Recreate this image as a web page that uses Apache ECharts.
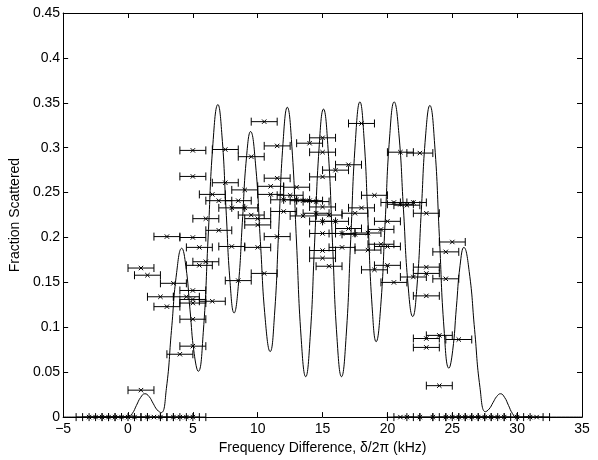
<!DOCTYPE html>
<html>
<head>
<meta charset="utf-8">
<script src="https://cdn.jsdelivr.net/npm/echarts@6/dist/echarts.min.js"></script>
<style>
html,body{margin:0;padding:0;background:#fff;}
#chart{width:598px;height:460px;}
</style>
</head>
<body>
<div id="chart"></div>
<script>
// Measured points (x in kHz, fraction scattered), each with horizontal error bar of +/- 1 kHz
const pointX = [1,1,1.5,2.5,3,3,3.5,4,4.5,5,5,5,5,5,5,5,5,5.5,5.5,6,6,6.5,6.5,7,7,7.5,7.5,8,8,8.5,8.5,9,9,9.5,9.5,10,10,10,10.5,10.5,11,11,11.5,11.5,11.5,12,12,12.5,13,13,13.5,13.5,14,14,14.5,14.5,15,15,15,15,15,15,15,15,15.5,15.5,16,16,16.5,16.5,17,17,17.5,17.5,18,18,18.5,18.5,19,19,19.5,19.5,20,20,20,20.5,20.5,21,21,21.5,22,22,22.5,23,23,23,23,23,23,24,24,24.5,24.5,25,25.5];
const pointY = [0.03,0.166,0.158,0.134,0.123,0.201,0.149,0.07,0.134,0.079,0.109,0.127,0.131,0.141,0.2,0.268,0.297,0.169,0.189,0.173,0.221,0.129,0.248,0.208,0.241,0.261,0.298,0.19,0.233,0.152,0.241,0.233,0.253,0.225,0.29,0.189,0.214,0.221,0.16,0.329,0.248,0.257,0.201,0.266,0.302,0.229,0.242,0.247,0.242,0.256,0.224,0.241,0.241,0.305,0.227,0.24,0.177,0.1855,0.2045,0.218,0.234,0.2675,0.295,0.311,0.168,0.225,0.218,0.275,0.189,0.2045,0.21,0.281,0.2035,0.227,0.233,0.327,0.186,0.205,0.164,0.247,0.1925,0.209,0.169,0.19,0.218,0.15,0.239,0.237,0.295,0.236,0.156,0.239,0.294,0.0776,0.0875,0.135,0.16,0.167,0.227,0.035,0.091,0.154,0.184,0.195,0.0864];
// Points lying on zero
const zeroX = [-3,-2.5,-2,-1.5,-1,-0.5,0,0.5,1.5,2,2.5,3.5,4,4.5,5,21,21.5,22.5,23.5,24.5,25,25.5,26,26.5,27,27.5,28,28.5,29,30,31,31.5];
const xErrHalf = 1;
// Theory curve
const curveX = [-5,0,0.33,0.65,0.98,1.3,1.62,1.93,2.25,2.56,2.96,3.35,3.75,4.14,4.46,4.78,5.10,5.42,5.80,6.175,6.55,6.93,7.24,7.555,7.87,8.18,8.50,8.815,9.13,9.45,9.83,10.205,10.58,10.96,11.29,11.62,11.95,12.28,12.635,12.99,13.345,13.7,14.04,14.385,14.73,15.07,15.42,15.765,16.11,16.46,16.815,17.17,17.525,17.88,18.19,18.505,18.82,19.13,19.48,19.825,20.17,20.52,20.88,21.235,21.59,21.95,22.28,22.61,22.94,23.27,23.64,24.005,24.37,24.74,25.03,25.315,25.60,25.89,26.305,26.72,27.135,27.55,27.84,28.135,28.43,28.72,29.03,29.335,29.64,29.95,35];
const curveY = [0,0,0.004,0.013,0.022,0.026,0.023,0.0155,0.008,0.005,0.032,0.0965,0.161,0.188,0.168,0.1195,0.071,0.051,0.094,0.1995,0.305,0.348,0.314,0.232,0.150,0.116,0.1455,0.217,0.2885,0.318,0.282,0.1955,0.109,0.073,0.113,0.209,0.305,0.345,0.301,0.195,0.089,0.045,0.0885,0.194,0.2995,0.343,0.2995,0.194,0.0885,0.045,0.0897,0.198,0.306,0.351,0.312,0.2175,0.123,0.084,0.123,0.2175,0.312,0.351,0.316,0.2315,0.147,0.112,0.146,0.2295,0.313,0.347,0.304,0.201,0.097,0.0545,0.074,0.122,0.169,0.189,0.162,0.0975,0.033,0.006,0.009,0.016,0.023,0.026,0.022,0.013,0.004,0,0];

const FONT = 'Liberation Sans';
const FS = 14;
const errData = [];
for (let i = 0; i < pointX.length; i++) errData.push([pointX[i], pointY[i], xErrHalf]);
for (let i = 0; i < zeroX.length; i++) errData.push([zeroX[i], 0, xErrHalf]);
const curveData = curveX.map((x, i) => [x, curveY[i]]);

function fmtY(v){ return String(parseFloat(v.toFixed(2))); }
function fmtX(v){ return v < 0 ? '\u2212' + Math.abs(v) : String(v); }

const chart = echarts.init(document.getElementById('chart'), null, {renderer:'canvas'});
function axisCommon(){
  return {
    axisLine:{show:true, onZero:false, lineStyle:{color:'#000', width:1}},
    axisTick:{show:true, inside:true, length:5, lineStyle:{color:'#000', width:1}},
    splitLine:{show:false}
  };
}
chart.setOption({
  animation:false,
  backgroundColor:'#fff',
  grid:{left:61, right:16, top:13, bottom:37, containLabel:false},
  xAxis:[
    Object.assign({type:'value', min:-5, max:35, interval:5, position:'bottom',
      name:'Frequency Difference, \u03b4/2\u03c0 (kHz)', nameLocation:'middle', nameGap:23,
      nameTextStyle:{color:'#000', fontFamily:FONT, fontSize:FS},
      axisLabel:{color:'#000', fontFamily:FONT, fontSize:FS, margin:5, formatter:fmtX}}, axisCommon()),
    Object.assign({type:'value', min:-5, max:35, interval:5, position:'top',
      axisLabel:{show:false}}, axisCommon())
  ],
  yAxis:[
    Object.assign({type:'value', min:0, max:0.45, interval:0.05, position:'left',
      name:'Fraction Scattered', nameLocation:'middle', nameGap:37,
      nameTextStyle:{color:'#000', fontFamily:FONT, fontSize:FS},
      axisLabel:{color:'#000', fontFamily:FONT, fontSize:FS, margin:3, formatter:fmtY}}, axisCommon()),
    Object.assign({type:'value', min:0, max:0.45, interval:0.05, position:'right',
      axisLabel:{show:false}}, axisCommon())
  ],
  series:[
    {
      type:'line', data:curveData, xAxisIndex:0, yAxisIndex:0,
      showSymbol:false, smooth:0.5, clip:true,
      lineStyle:{color:'#000', width:1}, z:3
    },
    {
      type:'custom', data:errData, xAxisIndex:0, yAxisIndex:0, z:4,
      renderItem:function(params, api){
        const x = api.value(0), y = api.value(1), e = api.value(2);
        const p = api.coord([x, y]);
        const l = api.coord([x - e, y]);
        const r = api.coord([x + e, y]);
        const cap = 4, m = 2.2;
        const st = {stroke:'#000', lineWidth:1, fill:null};
        return {type:'group', children:[
          {type:'line', shape:{x1:l[0], y1:l[1], x2:r[0], y2:r[1]}, style:st},
          {type:'line', shape:{x1:l[0], y1:l[1]-cap, x2:l[0], y2:l[1]+cap}, style:st},
          {type:'line', shape:{x1:r[0], y1:r[1]-cap, x2:r[0], y2:r[1]+cap}, style:st},
          {type:'line', shape:{x1:p[0]-m, y1:p[1]-m, x2:p[0]+m, y2:p[1]+m}, style:st},
          {type:'line', shape:{x1:p[0]-m, y1:p[1]+m, x2:p[0]+m, y2:p[1]-m}, style:st}
        ]};
      }
    }
  ]
});
</script>
</body>
</html>
